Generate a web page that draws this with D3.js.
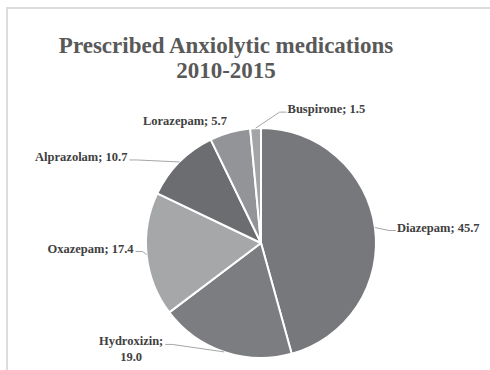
<!DOCTYPE html>
<html>
<head>
<meta charset="utf-8">
<script src="https://cdn.jsdelivr.net/npm/d3@7"></script>
<style>
  html, body { margin: 0; padding: 0; background: #fff; overflow: hidden; }
  svg { display: block; }
</style>
</head>
<body>
<svg id="chart" width="490" height="370"></svg>
<script>
// Share of prescriptions per anxiolytic, 2010-2015 (%)
const medications = ["Diazepam", "Hydroxizin", "Oxazepam", "Alprazolam", "Lorazepam", "Buspirone"];
const shares = [45.7, 19.0, 17.4, 10.7, 5.7, 1.5];
const sliceColors = ["#77787c", "#7c7d81", "#a6a7a9", "#6c6d71", "#939497", "#a3a4a6"];
const titleLines = ["Prescribed Anxiolytic medications", "2010-2015"];

// Label placement relative to each slice's outer edge point
const labelLayout = [
  { anchor: "start",  dx: 22,  dy: 4,   leader: true,  lines: 1 },
  { anchor: "middle", dx: -93, dy: -7,  leader: true,  lines: 2 },
  { anchor: "end",    dx: -13, dy: -2,  leader: true,  lines: 1 },
  { anchor: "end",    dx: -52, dy: -1,  leader: true,  lines: 1 },
  { anchor: "end",    dx: -3,  dy: -7,  leader: false, lines: 1 },
  { anchor: "start",  dx: 32,  dy: -15, leader: true,  lines: 1 }
];

const svg = d3.select("#chart");
const cx = 261, cy = 243, radius = 115;

// chart frame
svg.append("rect")
  .attr("x", 7).attr("y", 8)
  .attr("width", 500).attr("height", 400)
  .attr("fill", "none")
  .attr("stroke", "#dcdcdc")
  .attr("stroke-width", 2);

// title
const title = svg.append("text")
  .attr("text-anchor", "middle")
  .attr("font-family", "'Liberation Serif', 'Times New Roman', serif")
  .attr("font-weight", "bold")
  .attr("font-size", 23)
  .attr("fill", "#595959");
titleLines.forEach((t, i) => {
  title.append("tspan").attr("x", 226).attr("y", 53 + i * 25).text(t);
});

const data = medications.map((m, i) => ({ name: m, value: shares[i], color: sliceColors[i], layout: labelLayout[i] }));

const pie = d3.pie().sort(null).value(d => d.value);
const arc = d3.arc().innerRadius(0).outerRadius(radius);
const arcs = pie(data);

const g = svg.append("g").attr("transform", `translate(${cx},${cy})`);

g.selectAll("path.slice")
  .data(arcs)
  .join("path")
  .attr("class", "slice")
  .attr("d", arc)
  .attr("fill", d => d.data.color)
  .attr("stroke", "#fff")
  .attr("stroke-width", 2)
  .attr("stroke-linejoin", "round");

// labels with leader lines
const fmt = d3.format(".1f");
arcs.forEach(a => {
  const mid = (a.startAngle + a.endAngle) / 2;
  const ex = Math.sin(mid) * radius;
  const ey = -Math.cos(mid) * radius;
  const L = a.data.layout;
  const tx = ex + L.dx, ty = ey + L.dy;

  const label = g.append("text")
    .attr("text-anchor", L.anchor)
    .attr("font-family", "'Liberation Serif', 'Times New Roman', serif")
    .attr("font-weight", "bold")
    .attr("font-size", 12.5)
    .attr("fill", "#404040");

  if (L.lines === 2) {
    label.append("tspan").attr("x", tx).attr("y", ty).text(a.data.name + ";");
    label.append("tspan").attr("x", tx).attr("y", ty + 16).text(fmt(a.data.value));
  } else {
    label.attr("x", tx).attr("y", ty).text(`${a.data.name}; ${fmt(a.data.value)}`);
  }

  if (L.leader) {
    const bb = label.node().getBBox();
    const ly = L.lines === 2 ? ty - 0.5 : ty - 1;
    let endX, elbowX;
    if (L.anchor === "start") {
      endX = bb.x - 1;
      elbowX = endX - 7;
    } else {
      const firstW = L.lines === 2 ? label.select("tspan").node().getComputedTextLength() : bb.width;
      endX = (L.anchor === "middle" ? tx + firstW / 2 : tx) + 2;
      elbowX = endX + 7;
    }
    g.append("path")
      .attr("d", d3.line()([[endX, ly], [elbowX, ly], [ex, ey]]))
      .attr("fill", "none")
      .attr("stroke", "#a6a6a6")
      .attr("stroke-width", 1);
  }
});
</script>
</body>
</html>
